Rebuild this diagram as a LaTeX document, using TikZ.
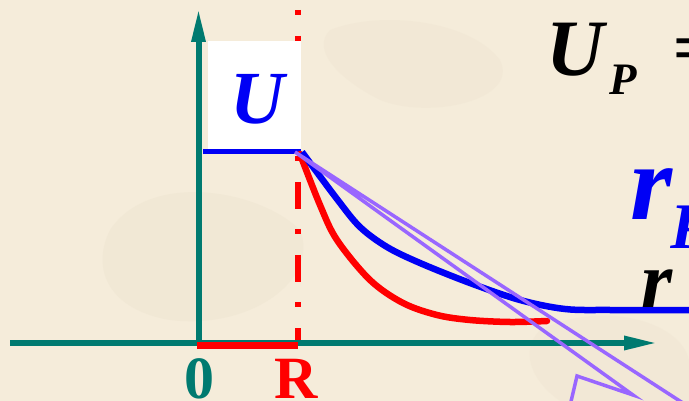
\documentclass[tikz,border=0pt]{standalone}
\usepackage{fontspec}
\setmainfont{Liberation Serif}
\usetikzlibrary{arrows.meta}
\definecolor{bg}{RGB}{245,236,218}
\definecolor{blob}{RGB}{236,226,206}
\definecolor{teal}{RGB}{0,122,112}
\definecolor{pblue}{RGB}{0,0,245}
\definecolor{pred}{RGB}{255,0,0}
\definecolor{purp}{RGB}{153,102,255}
\tikzset{
  axis/.style={teal, line width=6pt, -{Triangle[length=34pt,width=13pt]}},
  curve/.style={line width=6.5pt, line cap=round, line join=round},
  callout/.style={purp, line width=3.5pt, line join=miter},
  bigtxt/.style={inner sep=0pt, font=#1},
}
\begin{document}
\begin{tikzpicture}[x=1pt,y=-1pt]
\useasboundingbox (0,0) rectangle (689,401);
\clip (0,0) rectangle (689,401);
\fill[bg] (0,0) rectangle (689,401);
% faint texture
\fill[blob, opacity=0.4] (110,230) .. controls (150,170) and (260,190) .. (300,230) .. controls (320,280) and (250,330) .. (170,320) .. controls (110,310) and (90,270) .. (110,230) -- cycle;
\fill[blob, opacity=0.3] (330,30) .. controls (380,10) and (470,20) .. (500,60) .. controls (520,100) and (430,120) .. (380,100) .. controls (340,80) and (310,50) .. (330,30) -- cycle;
\fill[blob, opacity=0.3] (540,330) .. controls (600,300) and (680,320) .. (689,360) -- (689,401) -- (560,401) .. controls (530,380) and (520,350) .. (540,330) -- cycle;
% red dash-dot line
\coordinate (rtop) at (298,0);
\coordinate (rbot) at (298,345);
\draw[pred, line width=6.5pt, dash pattern=on 27pt off 20pt on 5pt off 21pt, dash phase=37pt] (rtop) -- (rbot);
% white box
\node[fill=white, minimum width=93pt, minimum height=110pt, inner sep=0pt] (ubox) at (254,96) {};
\node[bigtxt={\fontsize{75}{75}\selectfont\bfseries\itshape}, text=pblue] (ulab) at (258,99) {U};
% axes
\coordinate (o) at (198.5,345);
\coordinate (ytip) at (198.5,8);
\coordinate (xstart) at (10,343);
\coordinate (xtip) at (658,343);
\draw[axis] (o) -- (ytip);
\draw[axis] (xstart) -- (xtip);
% red segment on axis
\coordinate (r0) at (197,345.5);
\coordinate (rR) at (298,345.5);
\draw[pred, line width=6.5pt] (r0) -- (rR);
% blue level line
\coordinate (bl) at (203,152);
\coordinate (bR) at (301,152);
\draw[pblue, line width=5pt] (bl) -- (bR);
% curves
\draw[pred, curve] plot[smooth, tension=0.55] coordinates {(300,154) (320,205) (337,240) (370,280) (403,303) (437,315) (470,320) (510,322) (547,321)};
\draw[pblue, curve, line cap=butt] plot[smooth, tension=0.55] coordinates {(302,152) (337,199) (360,227) (387,247) (420,263) (470,283) (520,300) (565,309) (610,310) (690,310)};
% callout pointer
\coordinate (apex) at (295,152);
\draw[callout] (569,410) -- (577,376) -- (633,395) -- (apex) -- (686,405);
% labels
\node[bigtxt={\fontsize{60}{60}\selectfont\bfseries}, text=teal, anchor=base] (zero) at (199,398) {0};
\node[bigtxt={\fontsize{60}{60}\selectfont\bfseries}, text=pred, anchor=base] (Rlab) at (296,398) {R};
\node[bigtxt={\fontsize{80}{80}\selectfont\bfseries\itshape}, anchor=base west] (UP) at (546,76) {U};
\node[bigtxt={\fontsize{45}{45}\selectfont\bfseries\itshape}, anchor=base west] (Psub) at (609,95) {P};
\node[bigtxt={\fontsize{70}{70}\selectfont\bfseries}, anchor=west] (eq) at (673,55) {=};
\node[bigtxt={\fontsize{108}{108}\selectfont\bfseries\itshape}, text=pblue, anchor=base west] (rP) at (630,220) {r};
\node[bigtxt={\fontsize{65}{65}\selectfont\bfseries\itshape}, text=pblue, anchor=base west] (rPsub) at (670,248) {P};
\node[bigtxt={\fontsize{80}{80}\selectfont\bfseries\itshape}, anchor=base west] (rlab) at (641,308) {r};
\end{tikzpicture}
\end{document}
